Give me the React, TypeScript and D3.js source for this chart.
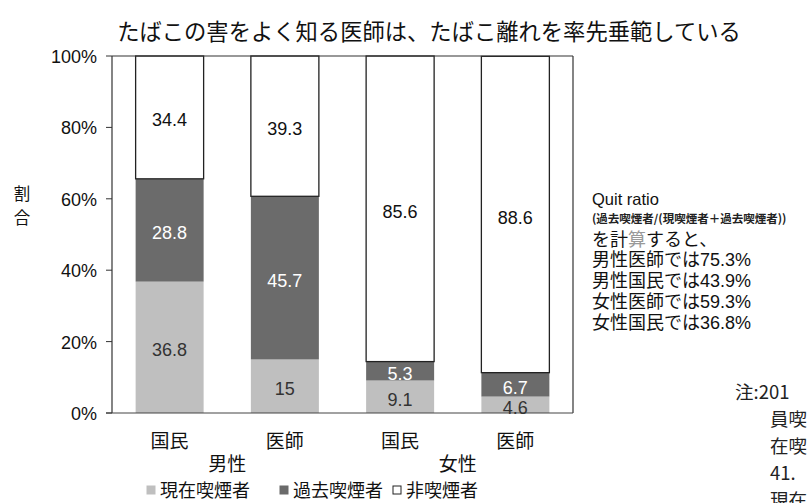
import React from "react";
import * as d3 from "d3";

const title = "たばこの害をよく知る医師は、たばこ離れを率先垂範している";
const categories = ["国民", "医師", "国民", "医師"];
const groups = ["男性", "女性"];
const current = [36.8, 15, 9.1, 4.6];
const past = [28.8, 45.7, 5.3, 6.7];
const never = [34.4, 39.3, 85.6, 88.6];
const seriesKeys = ["current", "past", "never"];
const seriesNames = ["現在喫煙者", "過去喫煙者", "非喫煙者"];
const yTicks = [0, 20, 40, 60, 80, 100];
const quitLines = ["男性医師では75.3%", "男性国民では43.9%", "女性医師では59.3%", "女性国民では36.8%"];
const noteLines = ["員喫", "在喫", "41.", "現在"];

const W = 808;
const H = 503;
const LATIN = "'Liberation Sans', Arial, 'Noto Sans CJK JP', sans-serif";
const CJK = "'Noto Sans CJK JP', 'Liberation Sans', sans-serif";
const colors: Record<string, string> = { current: "#bfbfbf", past: "#6b6b6b", never: "#ffffff" };
const labelColors: Record<string, string> = { current: "#333", past: "#fff", never: "#111" };

export default function App() {
  const data = categories.map((c, i) => ({
    idx: String(i),
    current: current[i],
    past: past[i],
    never: never[i],
  }));
  const x = d3.scaleBand<string>().domain(data.map((d) => d.idx)).range([112, 573]).paddingInner(0.41).paddingOuter(0.205);
  const y = d3.scaleLinear().domain([0, 100]).range([413, 56]);
  const stack = d3.stack<any>().keys(seriesKeys);
  const layers = stack(data as any);
  const bw = x.bandwidth();

  return (
    <svg width={W} height={H} style={{ position: "absolute", left: 0, top: 0, background: "#fff" }}>
      <rect x={0} y={0} width={W} height={H} fill="#fff" />
      <text x={429} y={30} textAnchor="middle" dominantBaseline="central" fontFamily={CJK} fontSize={22.3} fill="#111">
        {title}
      </text>

      {/* bars */}
      {layers.map((layer) => (
        <g key={layer.key}>
          {layer.map((seg, i) => {
            const x0 = x(String(i))!;
            const y0 = y(seg[1]);
            const h = y(seg[0]) - y(seg[1]);
            return (
              <rect
                key={i}
                x={x0}
                y={y0}
                width={bw}
                height={h}
                fill={colors[layer.key]}
                stroke={layer.key === "never" ? "#222" : "none"}
                strokeWidth={1.3}
              />
            );
          })}
        </g>
      ))}

      {/* frame */}
      <line x1={112} x2={112} y1={56} y2={413} stroke="#333" strokeWidth={1.2} />
      <line x1={112} x2={573} y1={56} y2={56} stroke="#333" strokeWidth={1.2} />
      <line x1={573} x2={573} y1={56} y2={413} stroke="#333" strokeWidth={1.2} />
      <line x1={106} x2={573} y1={413} y2={413} stroke="#444" strokeWidth={1.2} />
      {yTicks.map((t) => (
        <g key={t}>
          <line x1={106} x2={112} y1={y(t)} y2={y(t)} stroke="#333" strokeWidth={1} />
          <text x={97} y={y(t) + 1} textAnchor="end" dominantBaseline="central" fontFamily={LATIN} fontSize={18} fill="#111">
            {t}%
          </text>
        </g>
      ))}

      {/* segment labels */}
      {layers.map((layer) =>
        layer.map((seg, i) => {
          const v = (seg.data as any)[layer.key] as number;
          return (
            <text
              key={layer.key + i}
              x={x(String(i))! + bw / 2}
              y={(y(seg[0]) + y(seg[1])) / 2 + 3}
              textAnchor="middle"
              dominantBaseline="central"
              fontFamily={LATIN}
              fontSize={18}
              fill={labelColors[layer.key]}
            >
              {String(v)}
            </text>
          );
        })
      )}

      {/* y axis title */}
      <text x={22} y={193} textAnchor="middle" dominantBaseline="central" fontFamily={CJK} fontSize={16.5} fill="#111">割</text>
      <text x={22} y={217} textAnchor="middle" dominantBaseline="central" fontFamily={CJK} fontSize={16.5} fill="#111">合</text>

      {/* x labels */}
      {categories.map((c, i) => (
        <text key={i} x={x(String(i))! + bw / 2} y={439} textAnchor="middle" dominantBaseline="central" fontFamily={CJK} fontSize={19} fill="#111">
          {c}
        </text>
      ))}
      {groups.map((g, gi) => {
        const a = x(String(gi * 2))! + bw / 2;
        const b = x(String(gi * 2 + 1))! + bw / 2;
        return (
          <text key={g} x={(a + b) / 2} y={462} textAnchor="middle" dominantBaseline="central" fontFamily={CJK} fontSize={19} fill="#111">
            {g}
          </text>
        );
      })}

      {/* legend */}
      {seriesKeys.map((k, i) => {
        const lx = [147, 280, 393][i];
        return (
          <g key={k}>
            <rect x={lx} y={486} width={8} height={8} fill={colors[k]} stroke={k === "never" ? "#222" : colors[k]} strokeWidth={1} />
            <text x={lx + 13} y={489} dominantBaseline="central" fontFamily={CJK} fontSize={18} fill="#111">
              {seriesNames[i]}
            </text>
          </g>
        );
      })}

      {/* quit ratio annotation */}
      <text x={592} y={199} dominantBaseline="central" fontFamily={LATIN} fontSize={16.5} fill="#111">Quit ratio</text>
      <text x={592} y={218} dominantBaseline="central" fontFamily={CJK} fontSize={11.5} fontWeight={700} fill="#222">
        (過去喫煙者/(現喫煙者＋過去喫煙者))
      </text>
      <text x={592} y={238} dominantBaseline="central" fontFamily={CJK} fontSize={18} fill="#111">
        を計<tspan fill="#999">算</tspan>すると、
      </text>
      {quitLines.map((l, i) => (
        <text key={l} x={592} y={260 + i * 21} dominantBaseline="central" fontFamily={LATIN} fontSize={18} fill="#111">
          {l}
        </text>
      ))}

      {/* cut-off note */}
      <text x={735} y={391} dominantBaseline="central" fontFamily={CJK} fontSize={18.5} fill="#222">注:201</text>
      {noteLines.map((l, i) => (
        <text key={i} x={770} y={418 + i * 27} dominantBaseline="central" fontFamily={CJK} fontSize={18.5} fill="#222">
          {l}
        </text>
      ))}
    </svg>
  );
}
